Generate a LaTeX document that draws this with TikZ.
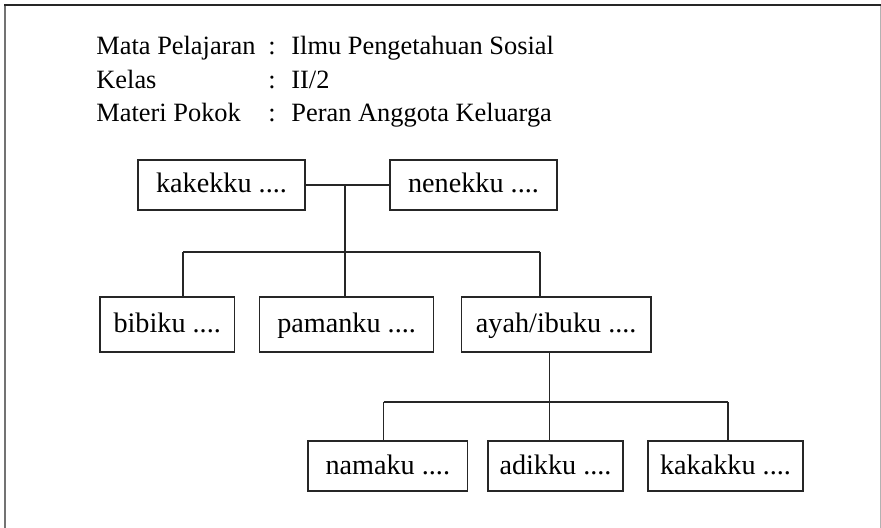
\documentclass[tikz,border=0pt]{standalone}
\usepackage{fontspec}
\setmainfont{Liberation Serif}
\usepackage{tikz}
\tikzstyle{person} = [draw=black!85,line width=0.75pt,minimum height=25pt,inner sep=0pt,text height=9.5pt,text depth=1.5pt,font=\fontsize{14.1}{17}\selectfont]
\tikzstyle{head} = [anchor=base west,inner sep=0pt,font=\fontsize{13.2}{16}\selectfont]
\tikzstyle{link} = [draw=black!85,line width=0.75pt]

\begin{document}
\begin{tikzpicture}[x=0.5pt,y=-0.5pt]
    \useasboundingbox (0,0) rectangle (881,528);

% Frame, open at the bottom

    \draw[black!55,line width=1.25pt] (5,4) -- (5,528);
    \draw[black!30,line width=0.5pt] (880,4) -- (880,528);
    \draw[black!85,line width=1pt] (4,5) -- (881,5);

% Header

    \node[head] at (96,55) (mapel) {Mata Pelajaran};
    \node[head] at (268,55) (mapelc) {:};
    \node[head] at (291,55) (mapelv) {Ilmu Pengetahuan Sosial};
    \node[head] at (96,88.5) (kelas) {Kelas};
    \node[head] at (268,88.5) (kelasc) {:};
    \node[head] at (291,88.5) (kelasv) {II/2};
    \node[head] at (96,122) (materi) {Materi Pokok};
    \node[head] at (268,122) (materic) {:};
    \node[head] at (291,122) (materiv) {Peran Anggota Keluarga};

% Draw boxes

    \node[person,minimum width=83.5pt] at (221.5,185) (kakek) {kakekku ....};
    \node[person,minimum width=83.5pt] at (473.5,185) (nenek) {nenekku ....};
    \node[person,minimum width=67.2pt,minimum height=27.5pt] at (167.2,324.5) (bibi) {bibiku ....};
    \node[person,minimum width=87pt,minimum height=27.5pt] at (346.6,324.5) (paman) {pamanku ....};
    \node[person,minimum width=94.75pt,minimum height=27.5pt] at (556.2,324.5) (ayah) {ayah/ibuku ....};
    \node[person,minimum width=79.75pt] at (387.8,466) (nama) {namaku ....};
    \node[person,minimum width=67.5pt] at (555.5,466) (adik) {adikku ....};
    \node[person,minimum width=77.5pt] at (725.5,466) (kakak) {kakakku ....};

% Lines between generations

    \coordinate (parM) at (345,185);
    \coordinate (sibL) at (183,252);
    \coordinate (sibR) at (540,252);
    \coordinate (kidM) at (549.5,402);
    \coordinate (kidL) at (383.5,402);
    \coordinate (kidR) at (728,402);
    \draw[link] (kakek) -- (nenek);
    \draw[link] (parM) -- (parM |- paman.north);
    \draw[link] (sibL) -- (sibR);
    \draw[link] (sibL) -- (sibL |- bibi.north);
    \draw[link] (sibR) -- (sibR |- ayah.north);
    \draw[link] (kidM |- ayah.south) -- (kidM |- adik.north);
    \draw[link] (kidL) -- (kidR);
    \draw[link] (kidL) -- (kidL |- nama.north);
    \draw[link] (kidR) -- (kidR |- kakak.north);

\end{tikzpicture}
\end{document}
